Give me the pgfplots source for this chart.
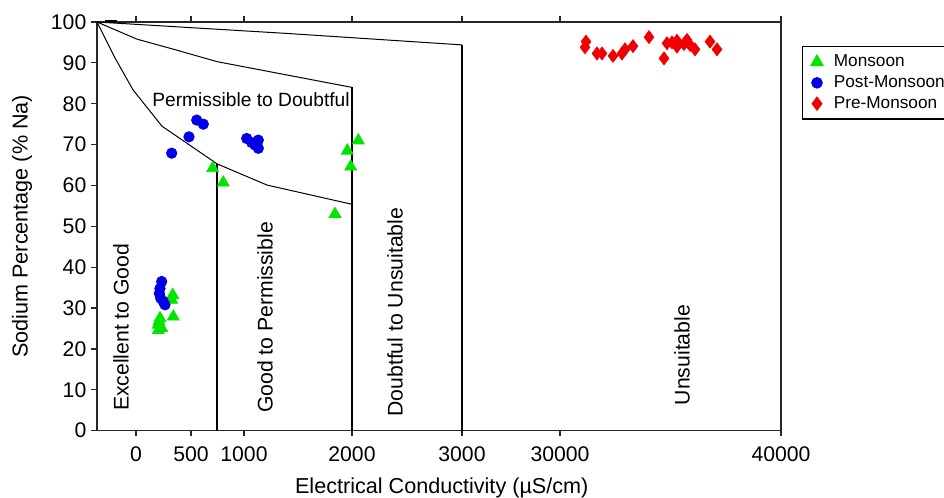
\documentclass[border=0pt]{standalone}
\usepackage{pgfplots}
\pgfplotsset{compat=1.18}
\usepackage{fontspec}
\setmainfont{Liberation Sans}
\begin{document}
\begin{tikzpicture}
\begin{axis}[
  scale only axis,
  width=342pt, height=204.35pt,
  xmin=97, xmax=781, ymin=0, ymax=100,
  axis line style={black!85, line width=0.8pt},
  xtick={136,191,244,352,462,560,781},
  xticklabels={0,500,1000,2000,3000,30000,40000},
  ytick={0,10,...,100},
  xtick pos=both, ytick pos=left,
  tick align=outside,
  major tick length=2.8pt,
  tick style={black!85, line width=0.6pt},
  /pgf/number format/assume math mode=true,
  ticklabel style={font=\fontsize{10.6}{12}\selectfont},
  xticklabel style={yshift=-1.5pt},
  yticklabel style={xshift=1pt},
  xlabel={Electrical Conductivity (µS/cm)},
  ylabel={Sodium Percentage (\% Na)},
  label style={font=\fontsize{10.8}{13}\selectfont},
  xlabel style={at={(axis description cs:0.504,-0.140)}, anchor=center},
  ylabel style={at={(axis description cs:-0.1096,0.5)}, anchor=center},
  legend style={at={(1.0300,0.9413)}, anchor=north west, draw=black, line width=0.6pt,
    font=\fontsize{8.6}{10}\selectfont, row sep=-1pt, inner xsep=4.5pt, inner ysep=2pt,
    /tikz/every odd column/.append style={column sep=3.5pt}},
  legend cell align=left,
  clip=false,
]
\coordinate (O) at (rel axis cs:0,0);
% boundaries
\addplot[black, line width=0.5pt, forget plot] coordinates {(97,100) (115,91.2) (133,83.4) (162,74.5) (217,65.3) (267,60.1) (352,55.4)};
\addplot[black, line width=0.5pt, forget plot] coordinates {(97,100) (137,95.8) (177,93.1) (217,90.3) (352,84.0)};
\addplot[black, line width=0.5pt, forget plot] coordinates {(97,100) (287,97.2) (462,94.4)};
\addplot[black, line width=0.6pt, forget plot] coordinates {(217,0) (217,65.3)};
\addplot[black, line width=0.6pt, forget plot] coordinates {(352,0) (352,84.0)};
\addplot[black, line width=0.6pt, forget plot] coordinates {(462,0) (462,94.4)};
\addplot[black, line width=1.6pt, forget plot] coordinates {(105,100.2) (117,100.2)};
% data
\addplot[only marks, mark=triangle*, mark size=3.4pt, color={rgb,255:red,0;green,230;blue,0}] coordinates {
(160,27.5) (158.3,25.9) (158.3,24.6) (161.7,25.1) (159,26.7) (173.3,27.9) (172.7,33.2) (171.7,32.0)
(212.7,64.2) (223.3,60.7) (335,53.0) (347.3,68.5) (350.7,64.6) (358.3,71.0)};
\addlegendentry{Monsoon}
\addplot[only marks, mark=*, mark size=2.6pt, color={rgb,255:red,0;green,0;blue,230}] coordinates {
(161.7,36.5) (160,34.8) (159.3,33.6) (160.7,32.4) (163.3,31.6) (165,30.8)
(171.7,67.9) (189,71.9) (196.7,76.0) (203.3,75.0) (246.7,71.5) (251.7,70.5) (258.3,71.1) (258.3,69.1) (255,69.9)};
\addlegendentry{Post-Monsoon}
\addplot[only marks, mark=diamond*, mark size=3.2pt, color={rgb,255:red,240;green,0;blue,0}] coordinates {
(586,95.2) (585,93.8) (597,92.3) (602,92.3) (613,91.7) (622,92.3) (625,93.3) (633,94.1) (649,96.3)
(664,91.1) (667,94.8) (677,95.4) (677,94.0) (687,95.6) (690,94.4) (695,93.3) (710,95.2) (717,93.3) (684,94.6) (672,95.0)};
\addlegendentry{Pre-Monsoon}
% region labels
\node[rotate=90, font=\fontsize{10.6}{12}\selectfont] at (axis cs:121,25.3) {Excellent to Good};
\node[rotate=90, font=\fontsize{10.6}{12}\selectfont] at (axis cs:265,27.7) {Good to Permissible};
\node[rotate=90, font=\fontsize{10.6}{12}\selectfont] at (axis cs:395,29.0) {Doubtful to Unsuitable};
\node[rotate=90, font=\fontsize{10.6}{12}\selectfont] at (axis cs:682,18.5) {Unsuitable};
\node[font=\fontsize{9.6}{11}\selectfont] at (axis cs:251,80.9) {Permissible to Doubtful};
\end{axis}
\pgfresetboundingbox
\path[use as bounding box] (O) ++(-48.5pt,-33.65pt) rectangle ++(472pt,249pt);
\end{tikzpicture}
\end{document}
